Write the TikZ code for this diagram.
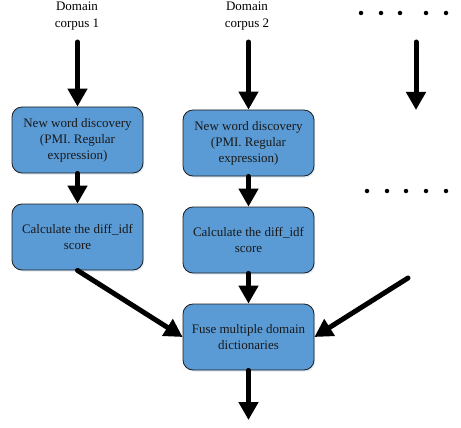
\documentclass[tikz,border=0pt]{standalone}
\usepackage{fontspec}
\setmainfont{Liberation Serif}
\usetikzlibrary{arrows.meta,shadows}
\definecolor{boxblue}{HTML}{5B9BD5}
\definecolor{boxline}{HTML}{1E1E1E}
\tikzset{
  procbox/.style={draw=boxline, line width=0.8pt, fill=boxblue, rounded corners=10pt,
    minimum width=131pt, minimum height=66pt, align=center, inner sep=2pt,
    font=\fontsize{13}{16}\selectfont, text=black!90,
    drop shadow={shadow xshift=1.2pt, shadow yshift=-1.5pt, fill=boxblue!60, opacity=0.35}},
  lbl/.style={align=center, font=\fontsize{13}{17}\selectfont, inner sep=0pt},
  bigarrow/.style={line width=5pt, line cap=round, -{Triangle[width=19pt,length=18pt]}},
  dotmark/.style={circle, fill=black, inner sep=0pt, minimum size=4.5pt}
}
\begin{document}
\begin{tikzpicture}[x=1pt,y=-1pt]
\useasboundingbox (0,0) rectangle (461,428);
% labels
\node[lbl] (d1) at (77,16) {Domain\\corpus 1};
\node[lbl] (d2) at (247,16) {Domain\\corpus 2};
% boxes
\node[procbox] (b1) at (77.5,140) {New word discovery\\(PMI. Regular\\expression)};
\node[procbox] (b2) at (248.5,143) {New word discovery\\(PMI. Regular\\expression)};
\node[procbox] (b3) at (77.5,237) {Calculate the diff\_idf\\score};
\node[procbox] (b4) at (248.5,240) {Calculate the diff\_idf\\score};
\node[procbox] (b5) at (248.5,337) {Fuse multiple domain\\dictionaries};
% free coordinates
\coordinate (s1) at (77.5,42);
\coordinate (s2) at (248.5,42);
\coordinate (s3) at (416,42);
\coordinate (e3) at (416,110);
\coordinate (r) at (408,278);
\coordinate (out) at (248.5,420);
% dots
\foreach \i/\x in {1/361,2/381,3/400,4/426,5/446}
  \node[dotmark] (t\i) at (\x,13) {};
\foreach \i/\x in {1/367,2/387,3/406,4/426,5/446}
  \node[dotmark] (m\i) at (\x,191) {};
% arrows
\draw[bigarrow] (s1) -- (b1.north);
\draw[bigarrow] (s2) -- (b2.north);
\draw[bigarrow] (s3) -- (e3);
\draw[bigarrow] (b1.south) -- (b3.north);
\draw[bigarrow] (b2.south) -- (b4.north);
\draw[bigarrow] (b4.south) -- (b5.north);
\draw[bigarrow] (b3.south) -- (b5.west);
\draw[bigarrow] (r) -- (b5.east);
\draw[bigarrow] (b5.south) -- (out);
\end{tikzpicture}
\end{document}
